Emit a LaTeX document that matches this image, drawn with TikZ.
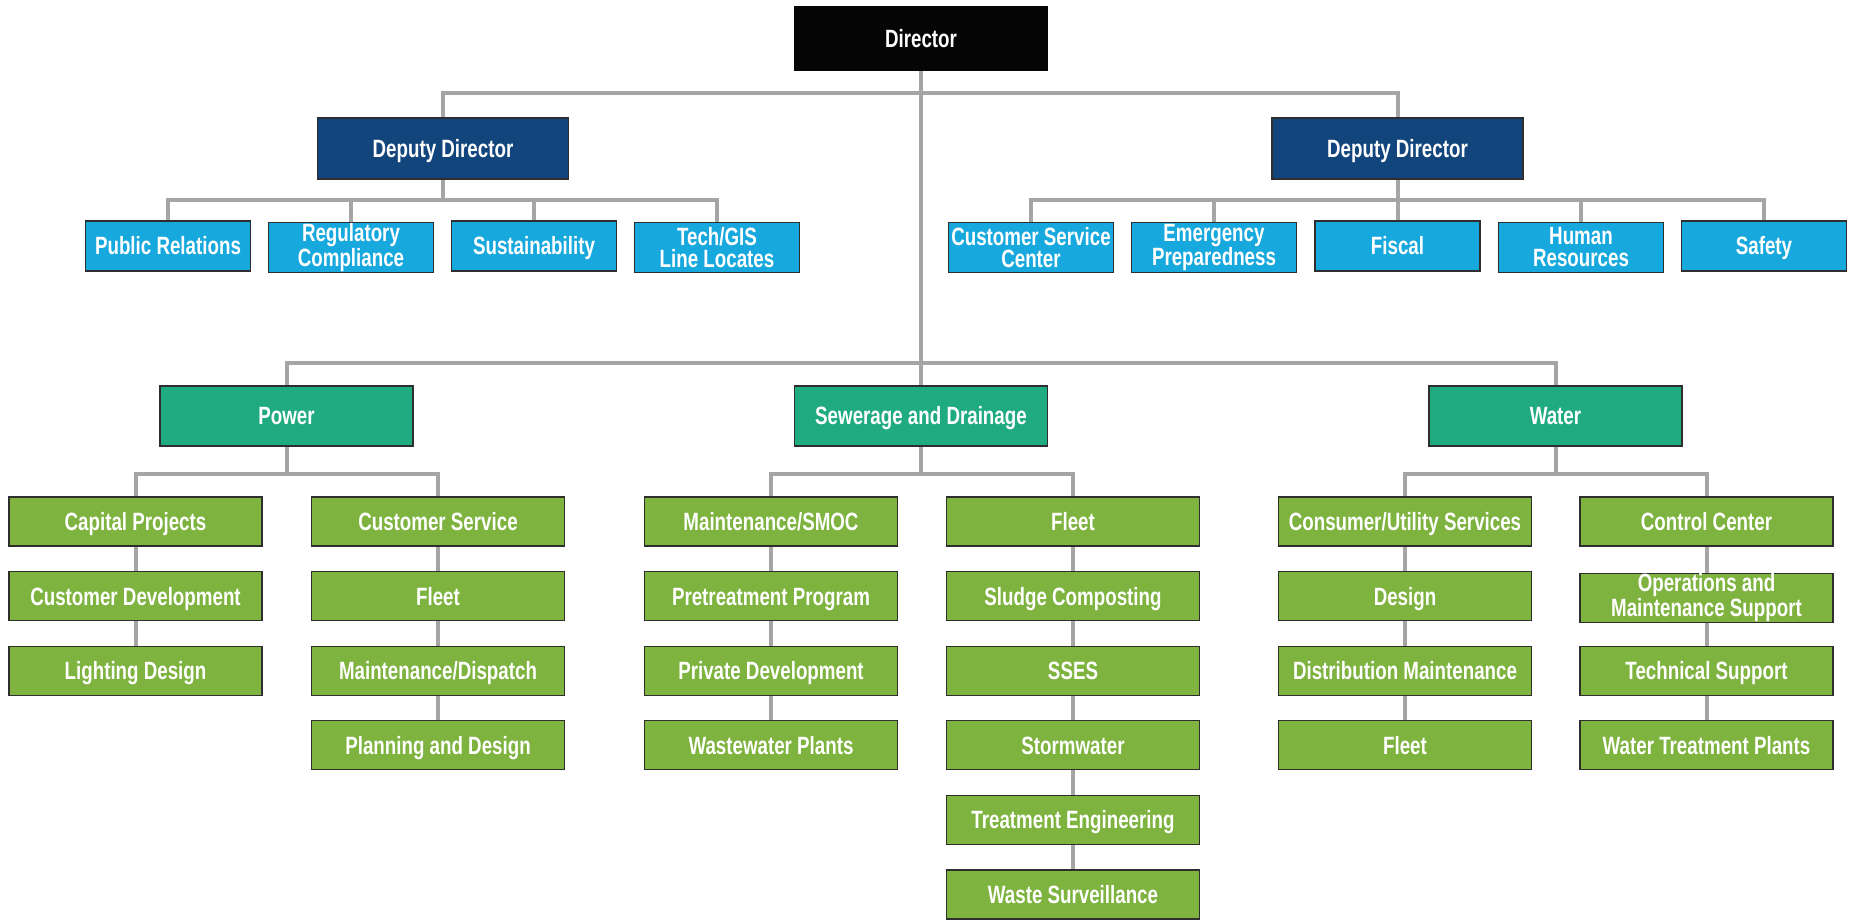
\documentclass[tikz,border=0pt]{standalone}
\usepackage{fontspec}
\setmainfont{Liberation Sans}[FakeStretch=0.75]
\usetikzlibrary{backgrounds}

\definecolor{dirblk}{HTML}{050505}
\definecolor{depblue}{HTML}{13457D}
\definecolor{unitblue}{HTML}{17A8DE}
\definecolor{divteal}{HTML}{1FAB7F}
\definecolor{subgreen}{HTML}{7DB33E}
\definecolor{linegray}{HTML}{A5A5A5}
\definecolor{boxedge}{HTML}{2E2E2E}

\tikzset{
  box/.style={draw=boxedge, line width=1.2pt, text=white, inner sep=0pt,
    font=\bfseries\fontsize{25}{22}\selectfont},
  oneline/.style={text height=17.9pt, text depth=0pt},
  twoline/.style={align=center, yshift=-1.5pt},
  topbox/.style={box, oneline, fill=dirblk, draw=dirblk, minimum width=252pt, minimum height=63pt},
  depbox/.style={box, oneline, fill=depblue, minimum width=251pt, minimum height=61pt},
  unitbox/.style={box, fill=unitblue, minimum width=165pt, minimum height=50pt},
  divbox/.style={box, oneline, fill=divteal, minimum width=253pt, minimum height=60pt},
  subbox/.style={box, fill=subgreen, minimum width=253pt, minimum height=49pt},
  conn/.style={draw=linegray, line width=4pt},
}

\begin{document}
\begin{tikzpicture}[x=1pt, y=-1pt]
\useasboundingbox (0,0) rectangle (1853,920);

% --- top levels
\node[topbox] (dir) at (921,38.5) {Director};
\node[depbox] (depL) at (443,148.5) {Deputy Director};
\node[depbox] (depR) at (1397.5,148.5) {Deputy Director};

% --- staff units, left deputy
\node[unitbox, oneline] (pr)  at (168,246) {Public Relations};
\node[unitbox, twoline] (rc)  at (351,246) {Regulatory\\Compliance};
\node[unitbox, oneline] (sus) at (534,246) {Sustainability};
\node[unitbox, twoline] (tg)  at (717,246) {Tech/GIS\\Line Locates};

% --- staff units, right deputy
\node[unitbox, twoline] (csc) at (1031,246) {Customer Service\\Center};
\node[unitbox, twoline] (ep)  at (1214,246) {Emergency\\Preparedness};
\node[unitbox, oneline] (fis) at (1397.5,246) {Fiscal};
\node[unitbox, twoline] (hr)  at (1581,246) {Human\\Resources};
\node[unitbox, oneline] (saf) at (1764,246) {Safety};

% --- divisions
\node[divbox] (pow) at (286.5,416) {Power};
\node[divbox] (sew) at (921,416) {Sewerage and Drainage};
\node[divbox] (wat) at (1555.5,416) {Water};

% --- sections
\foreach \t [count=\i] in {Capital Projects, Customer Development, Lighting Design}
  \node[subbox, oneline] (pa\i) at (135.5,{521.5+74.6*(\i-1)}) {\t};
\foreach \t [count=\i] in {Customer Service, Fleet, Maintenance/Dispatch, Planning and Design}
  \node[subbox, oneline] (pb\i) at (438,{521.5+74.6*(\i-1)}) {\t};
\foreach \t [count=\i] in {Maintenance/SMOC, Pretreatment Program, Private Development, Wastewater Plants}
  \node[subbox, oneline] (sa\i) at (771,{521.5+74.6*(\i-1)}) {\t};
\foreach \t [count=\i] in {Fleet, Sludge Composting, SSES, Stormwater, Treatment Engineering, Waste Surveillance}
  \node[subbox, oneline] (sb\i) at (1073,{521.5+74.6*(\i-1)}) {\t};
\foreach \t [count=\i] in {Consumer/Utility Services, Design, Distribution Maintenance, Fleet}
  \node[subbox, oneline] (wa\i) at (1405,{521.5+74.6*(\i-1)}) {\t};
\node[subbox, oneline] (wb1) at (1706.5,521.5) {Control Center};
\node[subbox, twoline] (wb2) at (1706.5,596.1) {Operations and\\Maintenance Support};
\node[subbox, oneline] (wb3) at (1706.5,670.7) {Technical Support};
\node[subbox, oneline] (wb4) at (1706.5,745.3) {Water Treatment Plants};

% --- junction points of the connector trees
\coordinate (hubTop) at (921,93);
\coordinate (hubL) at (443,200);
\coordinate (hubR) at (1397.5,200);
\coordinate (hubDiv) at (921,363);
\coordinate (hubP) at (286.5,474);
\coordinate (hubS) at (921,474);
\coordinate (hubW) at (1555.5,474);

\begin{scope}[on background layer]
  \fill[white] (0,0) rectangle (1853,920);
  % director to deputies and divisions
  \draw[conn] (depL.north) |- (hubTop) -| (depR.north);
  \draw[conn] (dir.south) -- (sew.north);
  \draw[conn] (pow.north) |- (hubDiv) -| (wat.north);
  % deputies to staff units
  \draw[conn] (depL.south) -- (hubL);
  \draw[conn] (pr.north) |- (hubL) -| (tg.north);
  \draw[conn] (rc.north) -- (rc.north |- hubL);
  \draw[conn] (sus.north) -- (sus.north |- hubL);
  \draw[conn] (depR.south) -- (fis.north);
  \draw[conn] (csc.north) |- (hubR) -| (saf.north);
  \draw[conn] (ep.north) -- (ep.north |- hubR);
  \draw[conn] (hr.north) -- (hr.north |- hubR);
  % divisions to sections
  \draw[conn] (pow.south) -- (hubP);
  \draw[conn] (pa1.north) |- (hubP) -| (pb1.north);
  \draw[conn] (sew.south) -- (hubS);
  \draw[conn] (sa1.north) |- (hubS) -| (sb1.north);
  \draw[conn] (wat.south) -- (hubW);
  \draw[conn] (wa1.north) |- (hubW) -| (wb1.north);
  % section columns
  \draw[conn] (pa1) -- (pa2) -- (pa3);
  \draw[conn] (pb1) -- (pb2) -- (pb3) -- (pb4);
  \draw[conn] (sa1) -- (sa2) -- (sa3) -- (sa4);
  \draw[conn] (sb1) -- (sb2) -- (sb3) -- (sb4) -- (sb5) -- (sb6);
  \draw[conn] (wa1) -- (wa2) -- (wa3) -- (wa4);
  \draw[conn] (wb1) -- (wb2) -- (wb3) -- (wb4);
\end{scope}
\end{tikzpicture}
\end{document}
